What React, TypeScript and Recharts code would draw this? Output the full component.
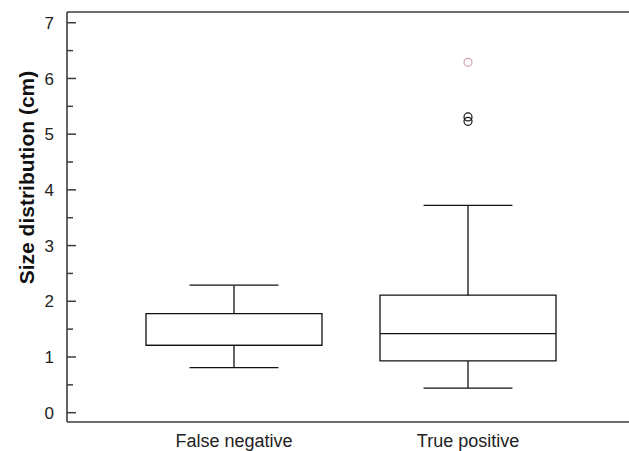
import {
  ComposedChart,
  XAxis,
  YAxis,
  Scatter,
  ReferenceArea,
  ReferenceLine,
} from 'recharts';

// box plot summary (cm)
const categories = ['False negative', 'True positive'];
const positions = [1, 2];
const whiskerLow = [0.81, 0.44];
const q1 = [1.21, 0.93];
const median = [1.21, 1.42];
const q3 = [1.78, 2.11];
const whiskerHigh = [2.29, 3.72];

// outliers of "True positive"
const outlierFar = [{ x: 2, y: 6.29 }];
const outlierNear = [
  { x: 2, y: 5.31 },
  { x: 2, y: 5.23 },
];

const yTicks = [0, 0.5, 1, 1.5, 2, 2.5, 3, 3.5, 4, 4.5, 5, 5.5, 6, 6.5, 7];

const FONT = '"Liberation Sans", Arial, Helvetica, sans-serif';
const FRAME = '#3c3c3c';
const INK = '#111';
const BOX_HALF = 0.376;
const CAP_HALF = 0.19;
const Y_DOMAIN: [number, number] = [-0.167, 7.193];
const X_DOMAIN: [number, number] = [67 / 234, 629 / 234];

const YTick = (props: any) => {
  const { x, y, payload } = props;
  const major = Number.isInteger(payload.value);
  return (
    <g>
      <line x1={x} x2={x + (major ? 9 : 6)} y1={y} y2={y} stroke={FRAME} strokeWidth={1.5} />
      {major && (
        <text x={x - 13} y={y} dy="0.36em" textAnchor="end" fontSize={17} fontFamily={FONT} fill="#222">
          {payload.value}
        </text>
      )}
    </g>
  );
};

const XTick = (props: any) => {
  const { x, y, payload } = props;
  const i = positions.indexOf(payload.value);
  return (
    <text x={x} y={y + 25} textAnchor="middle" fontSize={18} fontFamily={FONT} fill="#222">
      {categories[i]}
    </text>
  );
};

const ring = (color: string) => (props: any) => (
  <circle cx={props.cx} cy={props.cy} r={4} fill="none" stroke={color} strokeWidth={1.2} />
);

export default function App() {
  return (
    <div style={{ position: 'absolute', left: 0, top: 0, background: '#fff' }}>
      <ComposedChart width={629} height={451} margin={{ top: 12, right: 0, bottom: 0, left: 0 }}>
        <XAxis
          type="number"
          dataKey="x"
          domain={X_DOMAIN}
          ticks={positions}
          allowDataOverflow
          tickSize={0}
          tickMargin={0}
          tick={<XTick />}
          height={29}
          axisLine={{ stroke: FRAME, strokeWidth: 1.6 }}
        />
        <YAxis
          type="number"
          dataKey="y"
          domain={Y_DOMAIN}
          ticks={yTicks}
          allowDataOverflow
          interval={0}
          tickSize={0}
          tickMargin={0}
          tick={<YTick />}
          width={67}
          axisLine={{ stroke: FRAME, strokeWidth: 1.6 }}
          label={{
            content: (p: any) => {
              const vb = p.viewBox || { x: 0 };
              const cx = vb.x + 33.5;
              const cy = 177.5;
              return (
                <text
                  x={cx}
                  y={cy}
                  transform={`rotate(-90 ${cx} ${cy})`}
                  textAnchor="middle"
                  fontSize={21}
                  fontWeight="bold"
                  fontFamily={FONT}
                  fill="#111"
                >
                  Size distribution (cm)
                </text>
              );
            },
          }}
        />
        <ReferenceLine y={Y_DOMAIN[1]} stroke={FRAME} strokeWidth={1.6} ifOverflow="extendDomain" />

        {positions.map((c, i) => (
          <ReferenceLine
            key={`wu${i}`}
            segment={[
              { x: c, y: q3[i] },
              { x: c, y: whiskerHigh[i] },
            ]}
            stroke={INK}
            strokeWidth={1.3}
          />
        ))}
        {positions.map((c, i) => (
          <ReferenceLine
            key={`wl${i}`}
            segment={[
              { x: c, y: whiskerLow[i] },
              { x: c, y: q1[i] },
            ]}
            stroke={INK}
            strokeWidth={1.3}
          />
        ))}
        {positions.map((c, i) => (
          <ReferenceLine
            key={`cu${i}`}
            segment={[
              { x: c - CAP_HALF, y: whiskerHigh[i] },
              { x: c + CAP_HALF, y: whiskerHigh[i] },
            ]}
            stroke={INK}
            strokeWidth={1.3}
          />
        ))}
        {positions.map((c, i) => (
          <ReferenceLine
            key={`cl${i}`}
            segment={[
              { x: c - CAP_HALF, y: whiskerLow[i] },
              { x: c + CAP_HALF, y: whiskerLow[i] },
            ]}
            stroke={INK}
            strokeWidth={1.3}
          />
        ))}
        {positions.map((c, i) => (
          <ReferenceArea
            key={`b${i}`}
            x1={c - BOX_HALF}
            x2={c + BOX_HALF}
            y1={q1[i]}
            y2={q3[i]}
            fill="#fff"
            fillOpacity={1}
            stroke={INK}
            strokeWidth={1.3}
          />
        ))}
        {positions.map((c, i) => (
          <ReferenceLine
            key={`m${i}`}
            segment={[
              { x: c - BOX_HALF, y: median[i] },
              { x: c + BOX_HALF, y: median[i] },
            ]}
            stroke={INK}
            strokeWidth={1.3}
          />
        ))}

        <Scatter data={outlierFar} shape={ring('#d0a3ae')} isAnimationActive={false} />
        <Scatter data={outlierNear} shape={ring('#111')} isAnimationActive={false} />
      </ComposedChart>
    </div>
  );
}
